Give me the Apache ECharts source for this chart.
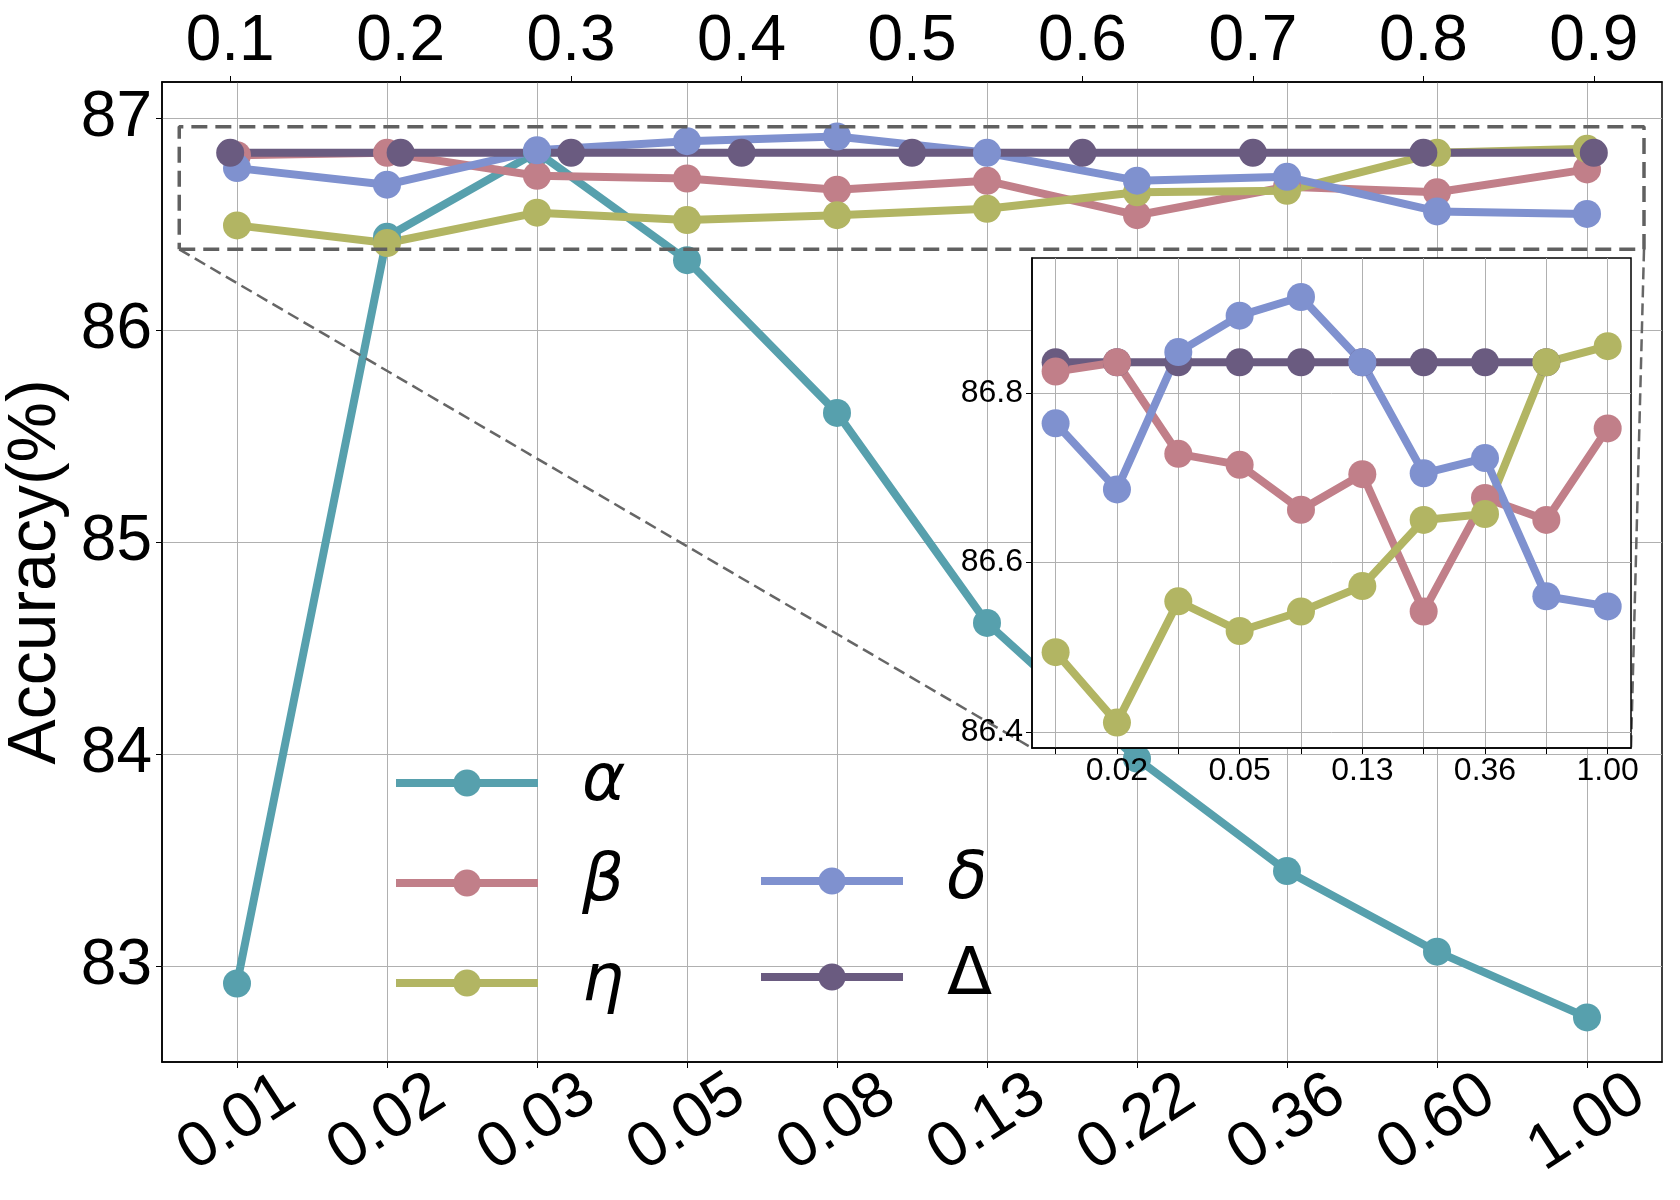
<!DOCTYPE html>
<html lang="en">
<head>
<meta charset="UTF-8">
<title>Accuracy(%) vs hyper-parameter</title>
<script src="https://cdn.jsdelivr.net/npm/echarts@6/dist/echarts.min.js"></script>
<style>
    html, body { margin: 0; padding: 0; background: #fff; }
    #main { width: 1680px; height: 1200px; }
</style>
</head>
<body>
<div id="main"></div>
<script>
    // bottom axis: parameter values (category index 0..9)
    var paramLabels = ['0.01', '0.02', '0.03', '0.05', '0.08', '0.13', '0.22', '0.36', '0.60', '1.00'];
    // top axis ticks (used by the Δ series)
    var topTicks = [0.1, 0.2, 0.3, 0.4, 0.5, 0.6, 0.7, 0.8, 0.9];
    var yTicks = [83, 84, 85, 86, 87];
    var insetYTicks = [86.4, 86.6, 86.8];

    var alphaAcc = [82.92, 86.44, 86.84, 86.33, 85.61, 84.62, 83.98, 83.45, 83.07, 82.76];
    var betaAcc = [86.825, 86.836, 86.728, 86.715, 86.662, 86.704, 86.542, 86.676, 86.650, 86.758];
    var etaAcc = [86.494, 86.411, 86.554, 86.519, 86.542, 86.572, 86.650, 86.657, 86.836, 86.855];
    var deltaAcc = [86.764, 86.686, 86.848, 86.891, 86.913, 86.836, 86.705, 86.723, 86.560, 86.548];
    var bigDeltaAcc = [86.836, 86.836, 86.836, 86.836, 86.836, 86.836, 86.836, 86.836, 86.836];

    // zoomed window shown in the inset
    var zoomX = [-0.385, 9.38];
    var zoomY = [86.381, 86.959];

    var colors = {
        'α': '#57A0AD',
        'β': '#C17F89',
        'η': '#B2B563',
        'δ': '#7F91CF',
        'Δ': '#6A5B80'
    };
    var idx10 = paramLabels.map(function (s, i) { return i; });
    var FONT = 'Liberation Sans, Arial, sans-serif';

    function pairs(arr) {
        return arr.map(function (v, i) { return [i, v]; });
    }

    function lineSeries(name, data, xi, yi, z) {
        return {
            name: name,
            type: 'line',
            xAxisIndex: xi,
            yAxisIndex: yi,
            data: data,
            symbol: 'circle',
            symbolSize: 28,
            z: z,
            color: colors[name],
            lineStyle: { width: 8, color: colors[name] },
            itemStyle: { color: colors[name] },
            emphasis: { disabled: true }
        };
    }

    var gridLine = { show: true, lineStyle: { color: '#b0b0b0', width: 1 } };
    var blackLine = { show: true, onZero: false, lineStyle: { color: '#000', width: 1.5 } };

    var myChart = echarts.init(document.getElementById('main'));

    var legendText = {
        color: '#000',
        padding: [0, 0, 0, 39],
        rich: {
            i: { fontFamily: 'DejaVu Sans', fontStyle: 'italic', fontSize: 66 },
            u: { fontFamily: 'DejaVu Sans', fontSize: 66 }
        }
    };
    function legendFmt(name) {
        return name === 'Δ' ? '{u|' + name + '}' : '{i|' + name + '}';
    }

    option = {
        animation: false,
        backgroundColor: '#fff',
        grid: [
            //主图
            { left: 162, top: 82, right: 18, bottom: 138, show: true, borderColor: '#000', borderWidth: 1.5,
              outerBoundsMode: 'none', containLabel: false },
            //放大图
            { left: 1032, top: 258, right: 49, bottom: 452, show: true, backgroundColor: '#fff',
              borderColor: '#000', borderWidth: 1.5, z: 10, outerBoundsMode: 'none', containLabel: false }
        ],
        legend: [
            {
                orient: 'vertical', left: 392, top: 750, padding: 0,
                data: ['α', 'β', 'η'],
                itemWidth: 142, itemHeight: 34, itemGap: 34,
                lineStyle: { width: 8 },
                formatter: legendFmt, textStyle: legendText,
                selectedMode: false
            },
            {
                orient: 'vertical', left: 757, top: 848, padding: 0,
                data: ['δ', 'Δ'],
                itemWidth: 142, itemHeight: 34, itemGap: 30,
                lineStyle: { width: 8 },
                formatter: legendFmt, textStyle: legendText,
                selectedMode: false
            }
        ],
        xAxis: [
            {
                type: 'value', gridIndex: 0, position: 'bottom', min: -0.5, max: 9.5,
                axisLine: blackLine,
                axisTick: { show: true, customValues: idx10, length: 6, lineStyle: { color: '#000' } },
                axisLabel: {
                    customValues: idx10, rotate: 33, fontSize: 64, fontFamily: FONT, color: '#000',
                    align: 'center', verticalAlign: 'middle', margin: 61,
                    formatter: function (v) { return paramLabels[Math.round(v)]; }
                },
                splitLine: gridLine
            },
            {
                type: 'value', gridIndex: 0, position: 'top', min: 0.06, max: 0.94,
                axisLine: blackLine,
                axisTick: { show: true, customValues: topTicks, length: 6, lineStyle: { color: '#000' } },
                axisLabel: {
                    customValues: topTicks, fontSize: 64, fontFamily: FONT, color: '#000', margin: 8,
                    formatter: function (v) { return v.toFixed(1); }
                },
                splitLine: { show: false }
            },
            {
                type: 'value', gridIndex: 1, min: zoomX[0], max: zoomX[1], z: 11,
                axisLine: blackLine,
                axisTick: { show: true, customValues: idx10, length: 6, lineStyle: { color: '#000' } },
                axisLabel: {
                    customValues: [1, 3, 5, 7, 9], fontSize: 32, fontFamily: FONT, color: '#000', margin: 7,
                    formatter: function (v) { return paramLabels[Math.round(v)]; }
                },
                splitLine: gridLine
            }
        ],
        yAxis: [
            {
                type: 'value', gridIndex: 0, min: 82.55, max: 87.17,
                name: 'Accuracy(%)', nameLocation: 'middle', nameGap: 86,
                nameTextStyle: { fontSize: 68, fontFamily: FONT, color: '#000' },
                axisLine: blackLine,
                axisTick: { show: true, customValues: yTicks, length: 6, lineStyle: { color: '#000' } },
                axisLabel: { customValues: yTicks, fontSize: 64, fontFamily: FONT, color: '#000', margin: 10 },
                splitLine: gridLine
            },
            {
                type: 'value', gridIndex: 1, min: zoomY[0], max: zoomY[1], z: 11,
                axisLine: blackLine,
                axisTick: { show: true, customValues: insetYTicks, length: 6, lineStyle: { color: '#000' } },
                axisLabel: {
                    customValues: insetYTicks, fontSize: 32, fontFamily: FONT, color: '#000', margin: 9,
                    formatter: function (v) { return v.toFixed(1); }
                },
                splitLine: gridLine
            }
        ],
        series: [
            lineSeries('α', pairs(alphaAcc), 0, 0, 2),
            lineSeries('β', pairs(betaAcc), 0, 0, 2),
            lineSeries('η', pairs(etaAcc), 0, 0, 2),
            lineSeries('δ', pairs(deltaAcc), 0, 0, 2),
            lineSeries('Δ', topTicks.map(function (t, i) { return [t, bigDeltaAcc[i]]; }), 1, 0, 2),
            //放大区域虚线框
            {
                name: 'zoom', type: 'line', xAxisIndex: 0, yAxisIndex: 0, z: 5, silent: true,
                symbol: 'none',
                data: [[zoomX[0], zoomY[0]], [zoomX[1], zoomY[0]], [zoomX[1], zoomY[1]],
                       [zoomX[0], zoomY[1]], [zoomX[0], zoomY[0]]],
                lineStyle: { color: '#606060', width: 3.5, type: [16, 8] }
            },
            //放大图中的曲线
            lineSeries('Δ', pairs(bigDeltaAcc), 2, 1, 12),
            lineSeries('β', pairs(betaAcc), 2, 1, 12),
            lineSeries('η', pairs(etaAcc), 2, 1, 12),
            lineSeries('δ', pairs(deltaAcc), 2, 1, 12)
        ]
    };
    myChart.setOption(option);

    // 虚线框与放大图之间的连接线
    var a1 = myChart.convertToPixel({ xAxisIndex: 0, yAxisIndex: 0 }, [zoomX[0], zoomY[0]]);
    var a2 = myChart.convertToPixel({ xAxisIndex: 0, yAxisIndex: 0 }, [zoomX[1], zoomY[0]]);
    var b1 = myChart.convertToPixel({ xAxisIndex: 2, yAxisIndex: 1 }, [zoomX[0], zoomY[0]]);
    var b2 = myChart.convertToPixel({ xAxisIndex: 2, yAxisIndex: 1 }, [zoomX[1], zoomY[0]]);
    var linkStyle = { stroke: '#666', lineWidth: 2.5, lineDash: [12, 6] };
    myChart.setOption({
        graphic: [
            { type: 'line', z: 4, silent: true, shape: { x1: a1[0], y1: a1[1], x2: b1[0], y2: b1[1] }, style: linkStyle },
            { type: 'line', z: 4, silent: true, shape: { x1: a2[0], y1: a2[1], x2: b2[0], y2: b2[1] }, style: linkStyle }
        ]
    });
</script>
</body>
</html>
